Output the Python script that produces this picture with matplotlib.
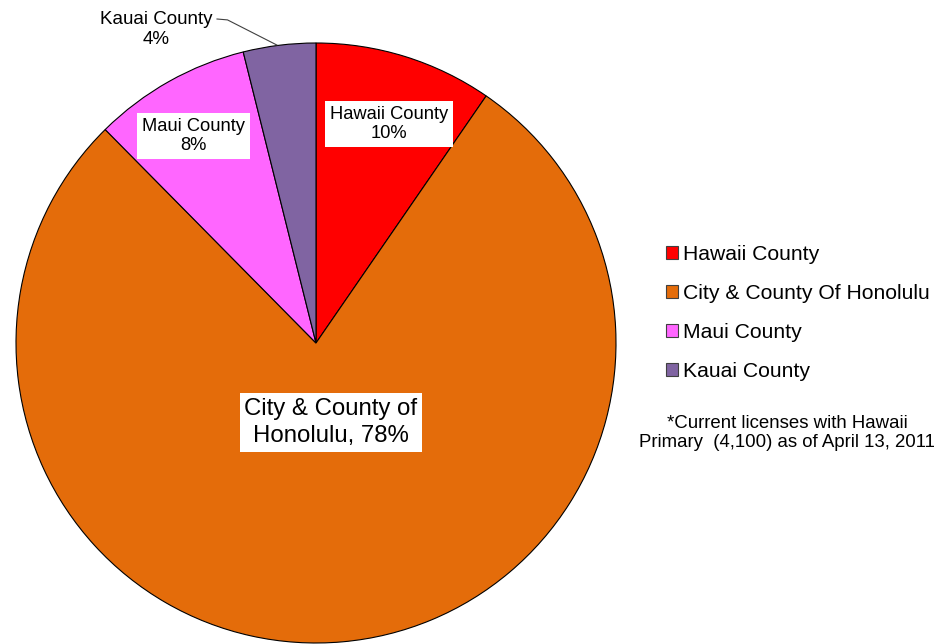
import matplotlib
matplotlib.use("Agg")
import matplotlib.pyplot as plt
from matplotlib.patches import Patch

plt.rcParams['font.family'] = ['Liberation Sans', 'DejaVu Sans']

categories = ["Hawaii County", "City & County Of Honolulu", "Maui County", "Kauai County"]
values = [9.6, 78.0, 8.5, 3.9]
pct_labels = ["10%", "78%", "8%", "4%"]
colors = ["#FF0000", "#E46C0A", "#FF66FF", "#8064A2"]

W, H = 937, 644
fig = plt.figure(figsize=(W / 100, H / 100), dpi=100)
cx, cy, r = 316, 301, 300
ax = fig.add_axes([(cx - r) / W, (cy - r) / H, 2 * r / W, 2 * r / H])
wedges, _ = ax.pie(values, colors=colors, startangle=90, counterclock=False,
                   radius=1, wedgeprops=dict(edgecolor="black", linewidth=0.8))
ax.set_xlim(-1, 1)
ax.set_ylim(-1, 1)
ax.set_aspect("equal")
ax.axis("off")

box = dict(facecolor="white", edgecolor="none", pad=3.5)
ax.text(0.243, 0.73, f"Hawaii County\n{pct_labels[0]}", ha="center", va="center",
        fontsize=13.2, bbox=box, linespacing=1.22)
ax.text(-0.407, 0.69, f"Maui County\n{pct_labels[2]}", ha="center", va="center",
        fontsize=13.2, bbox=box, linespacing=1.22)
ax.text(0.05, -0.265, f"City & County of\nHonolulu, {pct_labels[1]}", ha="center", va="center",
        fontsize=17.3, bbox=box, linespacing=1.28)
ax.text(-0.533, 1.045, f"Kauai County\n{pct_labels[3]}", ha="center", va="center",
        fontsize=13.5, linespacing=1.25, clip_on=False)
ax.plot([-0.33, -0.295, -0.13], [1.08, 1.077, 0.993], color="#404040", lw=0.8, clip_on=False)

handles = [Patch(facecolor=c, edgecolor="#404040", linewidth=0.8) for c in colors]
fig.legend(handles, categories, loc="center left", bbox_to_anchor=(666 / W, 1 - 313 / H),
           frameon=False, fontsize=15.2, handlelength=0.55, handleheight=0.55,
           handletextpad=0.25, labelspacing=0.95, borderpad=0, borderaxespad=0)

fig.text(787 / W, 1 - 433 / H, "*Current licenses with Hawaii\nPrimary  (4,100) as of April 13, 2011",
         ha="center", va="center", fontsize=13.4, linespacing=1.22)

fig.savefig("out.png", dpi=100, facecolor="white")
